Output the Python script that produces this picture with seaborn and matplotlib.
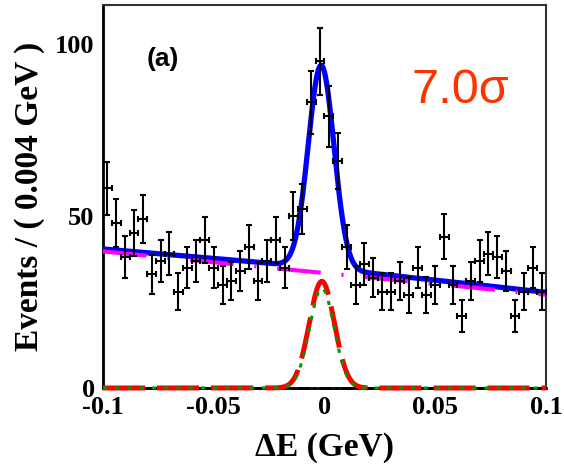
import matplotlib
matplotlib.use("Agg")
import matplotlib.pyplot as plt
from matplotlib.ticker import MultipleLocator
import numpy as np
import seaborn as sns

# ── Data ─────────────────────────────────────────────────────────────────────
BIN_WIDTH = 0.004
bin_centers = np.arange(-0.098, 0.1, BIN_WIDTH)
counts = [58, 48, 38, 45, 49, 33, 37, 39, 28, 35,
          37, 43, 35, 30, 31, 34, 41, 31, 37, 43,
          35, 50, 52, 83, 95, 79, 66, 41, 30, 36,
          32, 28, 28, 31, 27, 35, 27, 30, 44, 30,
          21, 31, 37, 39, 38, 34, 21, 28, 35, 28]

# fit-curve parameters
bg_intercept = 33.4
bg_slope = -63.0
sig_mean = -0.0015
sig_sigma = 0.0058
sig_amp = 59.0
wide_amp = 1.3
wide_sigma = 0.09
comp_mean = -0.0012
comp_sigma = 0.0057
red_amp = 31.0
green_amp = 29.0

x_ticks = [-0.1, -0.05, 0.0, 0.05, 0.1]
x_ticklabels = ["-0.1", "-0.05", "0", "0.05", "0.1"]
y_ticks = [0, 50, 100]


def gauss(x, amp, mu, sigma):
    return amp * np.exp(-0.5 * ((x - mu) / sigma) ** 2)


# ── Figure ───────────────────────────────────────────────────────────────────
sns.set_theme(style="white")
plt.rcParams["font.family"] = ["Liberation Serif", "DejaVu Serif"]
plt.rcParams["text.color"] = "black"
plt.rcParams["axes.labelcolor"] = "black"

fig = plt.figure(figsize=(5.64, 4.69), dpi=100)
ax = fig.add_axes([0.1826, 0.1727, 0.7855, 0.8166])

xs = np.linspace(-0.1, 0.1, 1001)
bg = bg_intercept + bg_slope * xs
total = bg + gauss(xs, sig_amp, sig_mean, sig_sigma) + gauss(xs, wide_amp, 0.0, wide_sigma)
red = gauss(xs, red_amp, comp_mean, comp_sigma)
green = gauss(xs, green_amp, comp_mean, comp_sigma * 0.97)
zero = np.zeros_like(xs)

sns.lineplot(x=xs, y=zero, ax=ax, color="black", linewidth=2.0,
             linestyle=(0, (4, 1.5, 0.8, 1.5)), clip_on=False, zorder=2)
sns.lineplot(x=xs, y=total, ax=ax, color="#0000ff", linewidth=3.8, zorder=3)
sns.lineplot(x=xs, y=bg, ax=ax, color="#ff00ff", linewidth=3.0,
             linestyle=(0, (10.5, 5, 0.5, 5)), zorder=4)
sns.lineplot(x=xs, y=red, ax=ax, color="#ff0000", linewidth=3.6,
             linestyle=(0, (8.4, 2.4)), clip_on=False, zorder=4)
sns.lineplot(x=xs, y=green, ax=ax, color="#009900", linewidth=2.2,
             linestyle=(0, (1.4, 2.6)), clip_on=False, zorder=5)

ax.errorbar(bin_centers, counts, yerr=np.sqrt(counts), xerr=BIN_WIDTH / 2,
            fmt="none", ecolor="black", elinewidth=1.5, capsize=2.5,
            capthick=1.5, zorder=6)

ax.set_xlim(-0.1, 0.1)
ax.set_ylim(0, 111.3)
ax.set_xticks(x_ticks)
ax.set_xticklabels(x_ticklabels)
ax.set_yticks(y_ticks)
ax.xaxis.set_minor_locator(MultipleLocator(0.01))
ax.yaxis.set_minor_locator(MultipleLocator(10))
ax.tick_params(which="both", direction="in", top=False, right=False,
               width=1.5, colors="black")
ax.tick_params(which="major", length=10, labelsize=19, pad=6)
ax.tick_params(which="minor", length=5)
for lab in ax.get_xticklabels() + ax.get_yticklabels():
    lab.set_fontweight("bold")
    lab.set_color("black")

for side in ["left", "bottom"]:
    ax.spines[side].set_color("black")
    ax.spines[side].set_linewidth(2.0)
for side in ["top", "right"]:
    ax.spines[side].set_color("#333333")
    ax.spines[side].set_linewidth(1.5)

ax.set_ylabel("Events / ( 0.004 GeV )", fontsize=24, fontweight="bold", va="center")
ax.yaxis.set_label_coords(-0.165, 0.5)
ax.set_xlabel("ΔE (GeV)", fontsize=24, fontweight="bold", va="center")
ax.xaxis.set_label_coords(0.5, -0.155)

ax.text(0.135, 0.86, "(a)", transform=ax.transAxes, ha="center", va="center",
        fontsize=19, fontweight="bold", color="black",
        family=["Liberation Sans", "DejaVu Sans"])
ax.text(0.806, 0.778, "7.0σ", transform=ax.transAxes, ha="center", va="center",
        fontsize=35, color="#ff3300", family=["Liberation Sans", "DejaVu Sans"])

fig.savefig("out.png", dpi=100)
